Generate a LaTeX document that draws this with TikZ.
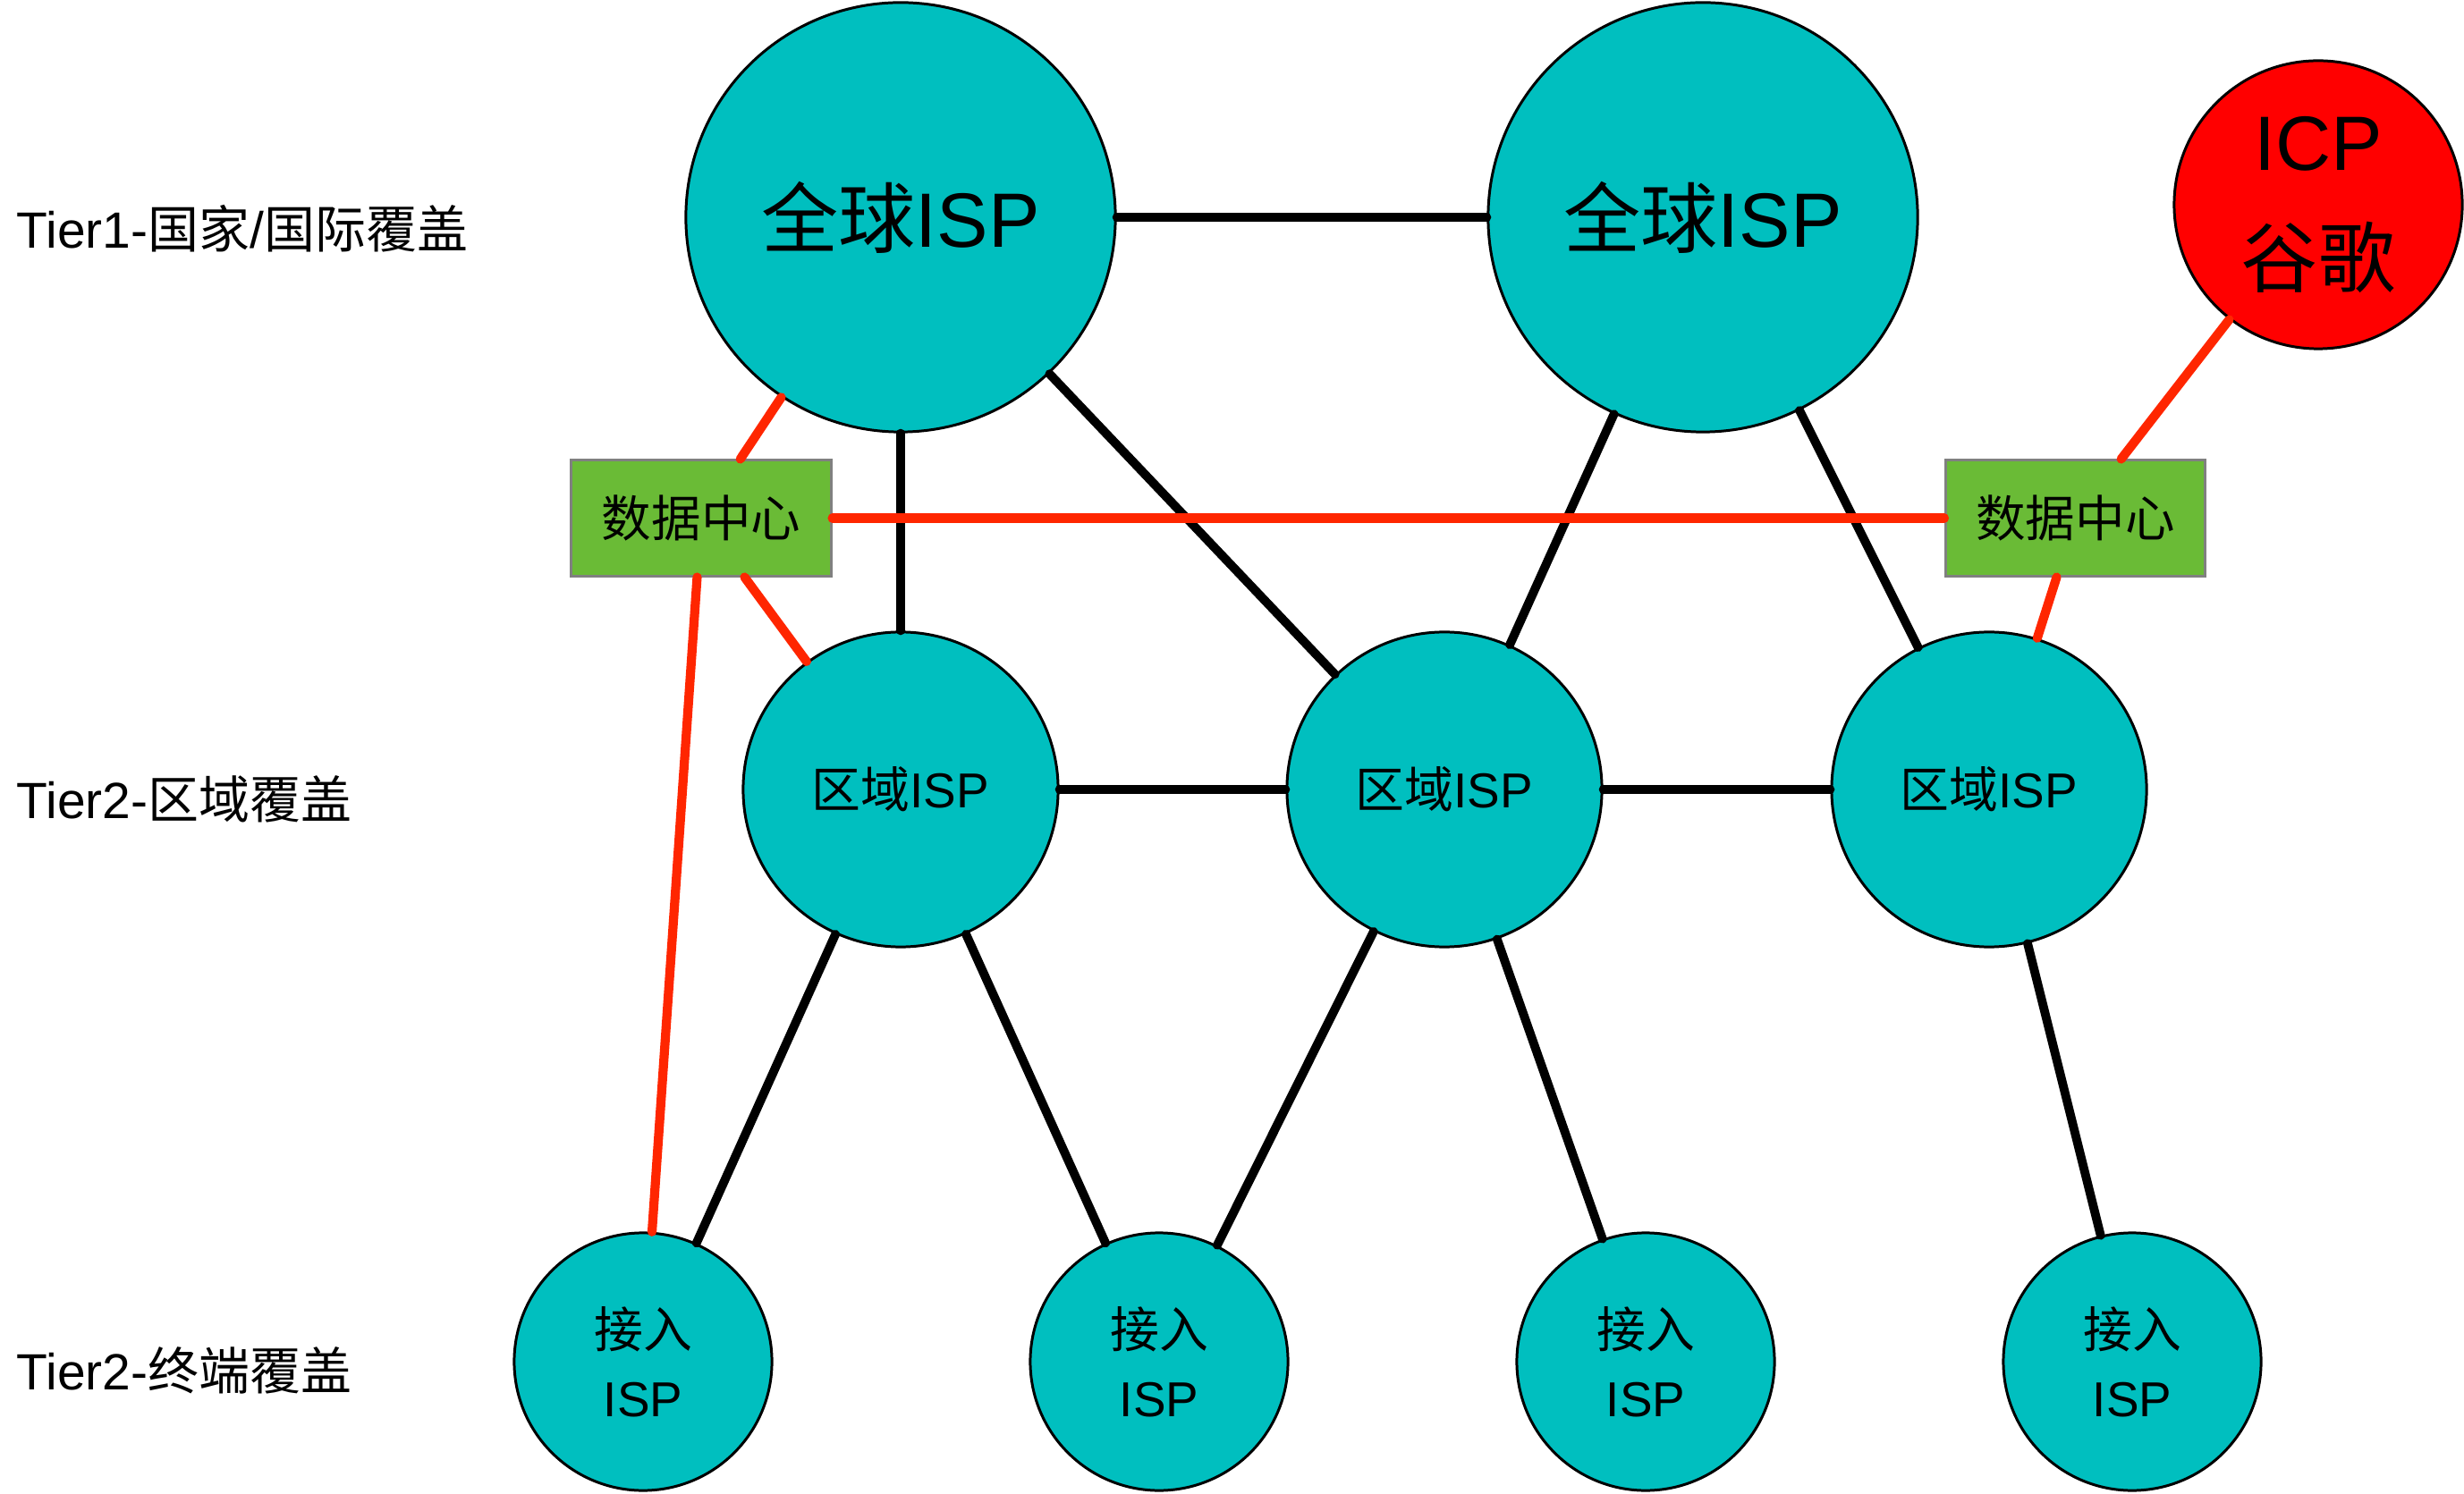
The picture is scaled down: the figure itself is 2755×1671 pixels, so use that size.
\documentclass[tikz,border=0pt]{standalone}
\usepackage{fontspec}
\setmainfont{Liberation Sans}
\newfontfamily\cjk{Noto Sans CJK SC}
\begin{document}
\begin{tikzpicture}[x=0.01cm,y=-0.01cm,
  isp/.style={circle,draw=black,line width=0.85pt,fill=ispcyan,inner sep=0pt,align=center},
  bigisp/.style={isp,minimum size=4.8cm,font=\fontsize{24.5}{37}\selectfont},
  midisp/.style={isp,minimum size=3.52cm,font=\fontsize{15.6}{22}\selectfont},
  accisp/.style={isp,minimum size=2.88cm,font=\fontsize{15.6}{22}\selectfont},
  icp/.style={isp,fill=icpred,minimum size=3.22cm,font=\fontsize{24.5}{37}\selectfont},
  dcbox/.style={rectangle,draw=dcgray,line width=0.85pt,fill=dcgreen,minimum width=2.9cm,minimum height=1.29cm,inner sep=0pt,font=\fontsize{15.8}{20}\selectfont},
  tier/.style={anchor=west,inner sep=0pt,font=\fontsize{16.2}{20}\selectfont},
  link/.style={draw=black,line width=2.8pt,line cap=round},
  dclink/.style={draw=redline,line width=2.9pt,line cap=round}]
\definecolor{ispcyan}{RGB}{0,191,191}
\definecolor{icpred}{RGB}{255,0,0}
\definecolor{dcgreen}{RGB}{106,187,54}
\definecolor{dcgray}{RGB}{128,128,128}
\definecolor{redline}{RGB}{255,38,0}

\useasboundingbox (0,0) rectangle (2755,1671);

% tier labels
\node[tier] (t1) at (18,256) {Tier1-{\cjk 国家}/{\cjk 国际覆盖}};
\node[tier] (t2) at (18,894) {Tier2-{\cjk 区域覆盖}};
\node[tier] (t3) at (18,1533) {Tier2-{\cjk 终端覆盖}};

% global ISPs and content provider
\node[bigisp] (g1) at (1007,243) {{\cjk 全球}ISP};
\node[bigisp] (g2) at (1904,243) {{\cjk 全球}ISP};
\node[icp] (icp) at (2592,229) {ICP\\{\cjk 谷歌}};

% data centres
\node[dcbox] (dc1) at (784,579.5) {\cjk 数据中心};
\node[dcbox] (dc2) at (2320.5,579.5) {\cjk 数据中心};

% regional ISPs
\node[midisp] (r1) at (1007,883) {{\cjk 区域}ISP};
\node[midisp] (r2) at (1615,883) {{\cjk 区域}ISP};
\node[midisp] (r3) at (2224,883) {{\cjk 区域}ISP};

% access ISPs
\node[accisp] (a1) at (719,1523) {{\cjk 接入}\\ISP};
\node[accisp] (a2) at (1296,1523) {{\cjk 接入}\\ISP};
\node[accisp] (a3) at (1840,1523) {{\cjk 接入}\\ISP};
\node[accisp] (a4) at (2384,1523) {{\cjk 接入}\\ISP};

% ISP interconnections
\path[link] (g1) -- (g2);
\path[link] (g1) -- (r1);
\path[link] (g1) -- (r2);
\path[link] (g2) -- (r2);
\path[link] (g2) -- (r3);
\path[link] (r1) -- (r2);
\path[link] (r2) -- (r3);
\path[link] (r1) -- (a1);
\path[link] (r1) -- (a2);
\path[link] (r2) -- (a2);
\path[link] (r2) -- (a3);
\path[link] (r3) -- (a4);

% data centre links
\path[dclink] (dc1) -- (g1);
\path[dclink] (dc1) -- (dc2);
\path[dclink] (dc1) -- (r1);
\path[dclink] (dc1) -- (a1);
\path[dclink] (dc2) -- (icp);
\path[dclink] (dc2) -- (r3);
\end{tikzpicture}
\end{document}
